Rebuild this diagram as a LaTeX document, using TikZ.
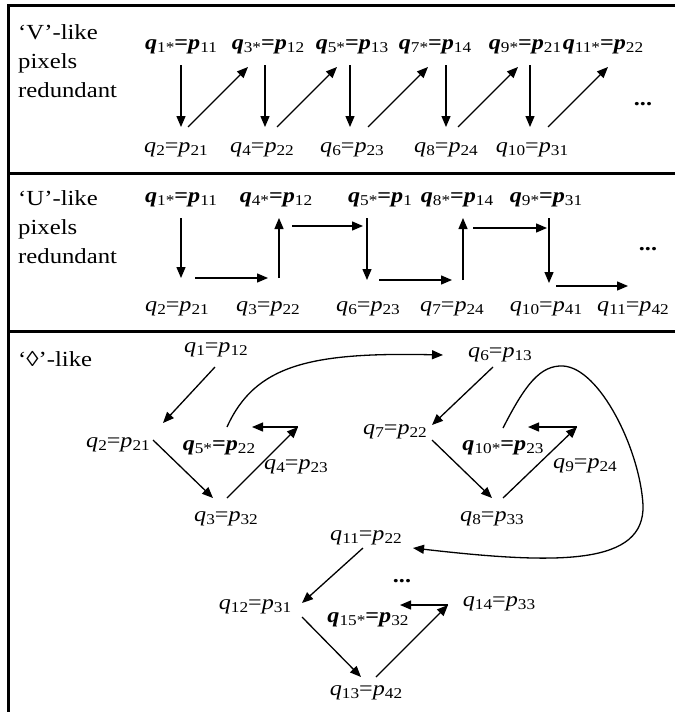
\documentclass[tikz,border=0pt]{standalone}
\usepackage{fontspec}
\setmainfont{Liberation Serif}[FakeStretch=1.15]
\usetikzlibrary{arrows.meta,calc}
\newcommand\sbx[1]{\raisebox{-0.12em}{\fontsize{15}{15}\selectfont\mdseries\upshape #1}}
\newcommand\lab[4]{\textit{#1}\sbx{#2}=\textit{#3}\sbx{#4}}
\newcommand\blab[4]{\textbf{\textit{#1}}\sbx{#2}\textbf{=}\textbf{\textit{#3}}\sbx{#4}}
\begin{document}
\begin{tikzpicture}[x=1pt,y=-1pt,
  lbl/.style={inner sep=0pt,font=\fontsize{21}{24}\selectfont},
  arr/.style={line width=1.3pt,-{Triangle[length=11pt,width=9pt]}},
  curv/.style={line width=1.3pt,-{Triangle[length=11pt,width=9pt]}},
  frame/.style={line width=3pt},
  side/.style={font=\fontsize{21.5}{29}\selectfont,align=left,inner sep=0pt,anchor=north west},
  dotsn/.style={inner sep=0pt,font=\fontsize{21}{24}\selectfont\bfseries}]
\useasboundingbox (0,0) rectangle (675,712);
% frame
\draw[frame] (675,5) -- (8,5) -- (8,712);
\draw[frame] (8,173) -- (675,173);
\draw[frame] (8,331) -- (675,331);
% side texts
\node[side] (tV) at (18,24) {‘V’-like\\pixels\\redundant};
\node[side] (tU) at (18,190) {‘U’-like\\pixels\\redundant};
\node[side] (tD) at (18,351) {‘◊’-like};
% ---------- V panel
\node[lbl] (v1) at (181,47) {\blab{q}{1*}{p}{11}};
\node[lbl] (v3) at (268,47) {\blab{q}{3*}{p}{12}};
\node[lbl] (v5) at (352,47) {\blab{q}{5*}{p}{13}};
\node[lbl] (v7) at (435,47) {\blab{q}{7*}{p}{14}};
\node[lbl] (v9) at (525,47) {\blab{q}{9*}{p}{21}};
\node[lbl] (v11) at (603,47) {\blab{q}{11*}{p}{22}};
\node[lbl] (v2) at (176,150) {\lab{q}{2}{p}{21}};
\node[lbl] (v4) at (262,150) {\lab{q}{4}{p}{22}};
\node[lbl] (v6) at (352,150) {\lab{q}{6}{p}{23}};
\node[lbl] (v8) at (446,150) {\lab{q}{8}{p}{24}};
\node[lbl] (v10) at (532,150) {\lab{q}{10}{p}{31}};
\node[dotsn] (vdots) at (643,104) {...};
\draw[arr] ([shift={(0,18)}]v1.center) -- ([shift={(5,-23)}]v2.center);
\draw[arr] ([shift={(12,-23)}]v2.center) -- ([shift={(-20,20)}]v3.center);
\draw[arr] ([shift={(-3,18)}]v3.center) -- ([shift={(3,-23)}]v4.center);
\draw[arr] ([shift={(15,-23)}]v4.center) -- ([shift={(-15,20)}]v5.center);
\draw[arr] ([shift={(-2,18)}]v5.center) -- ([shift={(-2,-23)}]v6.center);
\draw[arr] ([shift={(16,-23)}]v6.center) -- ([shift={(-7,20)}]v7.center);
\draw[arr] ([shift={(11,18)}]v7.center) -- ([shift={(0,-23)}]v8.center);
\draw[arr] ([shift={(12,-23)}]v8.center) -- ([shift={(-7,20)}]v9.center);
\draw[arr] ([shift={(5,18)}]v9.center) -- ([shift={(-2,-23)}]v10.center);
\draw[arr] ([shift={(16,-23)}]v10.center) -- ([shift={(5,20)}]v11.center);
% ---------- U panel
\node[lbl] (u1) at (181,200) {\blab{q}{1*}{p}{11}};
\node[lbl] (u4) at (276,200) {\blab{q}{4*}{p}{12}};
\node[lbl] (u5) at (380,200) {\blab{q}{5*}{p}{1}};
\node[lbl] (u8) at (457,200) {\blab{q}{8*}{p}{14}};
\node[lbl] (u9) at (546,200) {\blab{q}{9*}{p}{31}};
\node[lbl] (u2) at (177,309) {\lab{q}{2}{p}{21}};
\node[lbl] (u3) at (268,309) {\lab{q}{3}{p}{22}};
\node[lbl] (u6) at (368,309) {\lab{q}{6}{p}{23}};
\node[lbl] (u7) at (452,309) {\lab{q}{7}{p}{24}};
\node[lbl] (u10) at (546,309) {\lab{q}{10}{p}{41}};
\node[lbl] (u11) at (633,309) {\lab{q}{11}{p}{42}};
\node[dotsn] (udots) at (648,249) {...};
\draw[arr] ([shift={(0,18)}]u1.center) -- ([shift={(4,-31)}]u2.center);
\draw[arr] ([shift={(18,-31)}]u2.center) -- ([shift={(0,-31)}]u3.center);
\draw[arr] ([shift={(11,-31)}]u3.center) -- ([shift={(3,18)}]u4.center);
\draw[arr] ([shift={(16,26)}]u4.center) -- ([shift={(-17,26)}]u5.center);
\draw[arr] ([shift={(-13,18)}]u5.center) -- ([shift={(-1,-29)}]u6.center);
\draw[arr] ([shift={(11,-29)}]u6.center) -- ([shift={(0,-29)}]u7.center);
\draw[arr] ([shift={(11,-29)}]u7.center) -- ([shift={(6,18)}]u8.center);
\draw[arr] ([shift={(16,28)}]u8.center) -- ([shift={(1,28)}]u9.center);
\draw[arr] ([shift={(3,18)}]u9.center) -- ([shift={(3,-26)}]u10.center);
\draw[arr] ([shift={(10,-23)}]u10.center) -- ([shift={(-5,-23)}]u11.center);
% ---------- diamond panel
\node[lbl] (d1) at (216,350) {\lab{q}{1}{p}{12}};
\node[lbl] (d2) at (118,445) {\lab{q}{2}{p}{21}};
\node[lbl] (d5) at (219,448) {\blab{q}{5*}{p}{22}};
\node[lbl] (d4) at (296,467) {\lab{q}{4}{p}{23}};
\node[lbl] (d3) at (226,519) {\lab{q}{3}{p}{32}};
\node[lbl] (d6) at (500,355) {\lab{q}{6}{p}{13}};
\node[lbl] (d7) at (395,432) {\lab{q}{7}{p}{22}};
\node[lbl] (d10) at (503,448) {\blab{q}{10*}{p}{23}};
\node[lbl] (d9) at (585,466) {\lab{q}{9}{p}{24}};
\node[lbl] (d8) at (492,519) {\lab{q}{8}{p}{33}};
\node[lbl] (d11) at (366,538) {\lab{q}{11}{p}{22}};
\node[lbl] (d12) at (255,607) {\lab{q}{12}{p}{31}};
\node[lbl] (d15) at (368,620) {\blab{q}{15*}{p}{32}};
\node[lbl] (d14) at (499,604) {\lab{q}{14}{p}{33}};
\node[lbl] (d13) at (366,693) {\lab{q}{13}{p}{42}};
\node[dotsn] (ddots) at (402,581) {...};
\draw[arr] ([shift={(-1,17)}]d1.center) -- ([shift={(45,-22)}]d2.center);
\draw[arr] ([shift={(35,-5)}]d2.center) -- ([shift={(-13,-21)}]d3.center);
\draw[arr] ([shift={(1,-21)}]d3.center) -- ([shift={(2,-40)}]d4.center);
\draw[arr] ([shift={(2,-40)}]d4.center) -- ([shift={(33,-21)}]d5.center);
\draw[curv] ([shift={(8,-21)}]d5.center) .. controls (255,365) and (310,352) .. ([shift={(-57,0)}]d6.center);
\draw[arr] ([shift={(-7,12)}]d6.center) -- ([shift={(37,-7)}]d7.center);
\draw[arr] ([shift={(37,8)}]d7.center) -- ([shift={(0,-21)}]d8.center);
\draw[arr] ([shift={(11,-21)}]d8.center) -- ([shift={(-8,-39)}]d9.center);
\draw[arr] ([shift={(-8,-39)}]d9.center) -- ([shift={(25,-21)}]d10.center);
\draw[curv] ([shift={(0,-20)}]d10.center) .. controls (525,385) and (540,365) .. (563,366)
  .. controls (600,368) and (640,450) .. (643,505)
  .. controls (645,565) and (560,565) .. ([shift={(47,10)}]d11.center);
\draw[arr] ([shift={(-3,10)}]d11.center) -- ([shift={(47,-4)}]d12.center);
\draw[arr] ([shift={(47,10)}]d12.center) -- ([shift={(-5,-16)}]d13.center);
\draw[arr] ([shift={(10,-16)}]d13.center) -- ([shift={(-51,1)}]d14.center);
\draw[arr] ([shift={(-51,1)}]d14.center) -- ([shift={(32,-15)}]d15.center);
\end{tikzpicture}
\end{document}
